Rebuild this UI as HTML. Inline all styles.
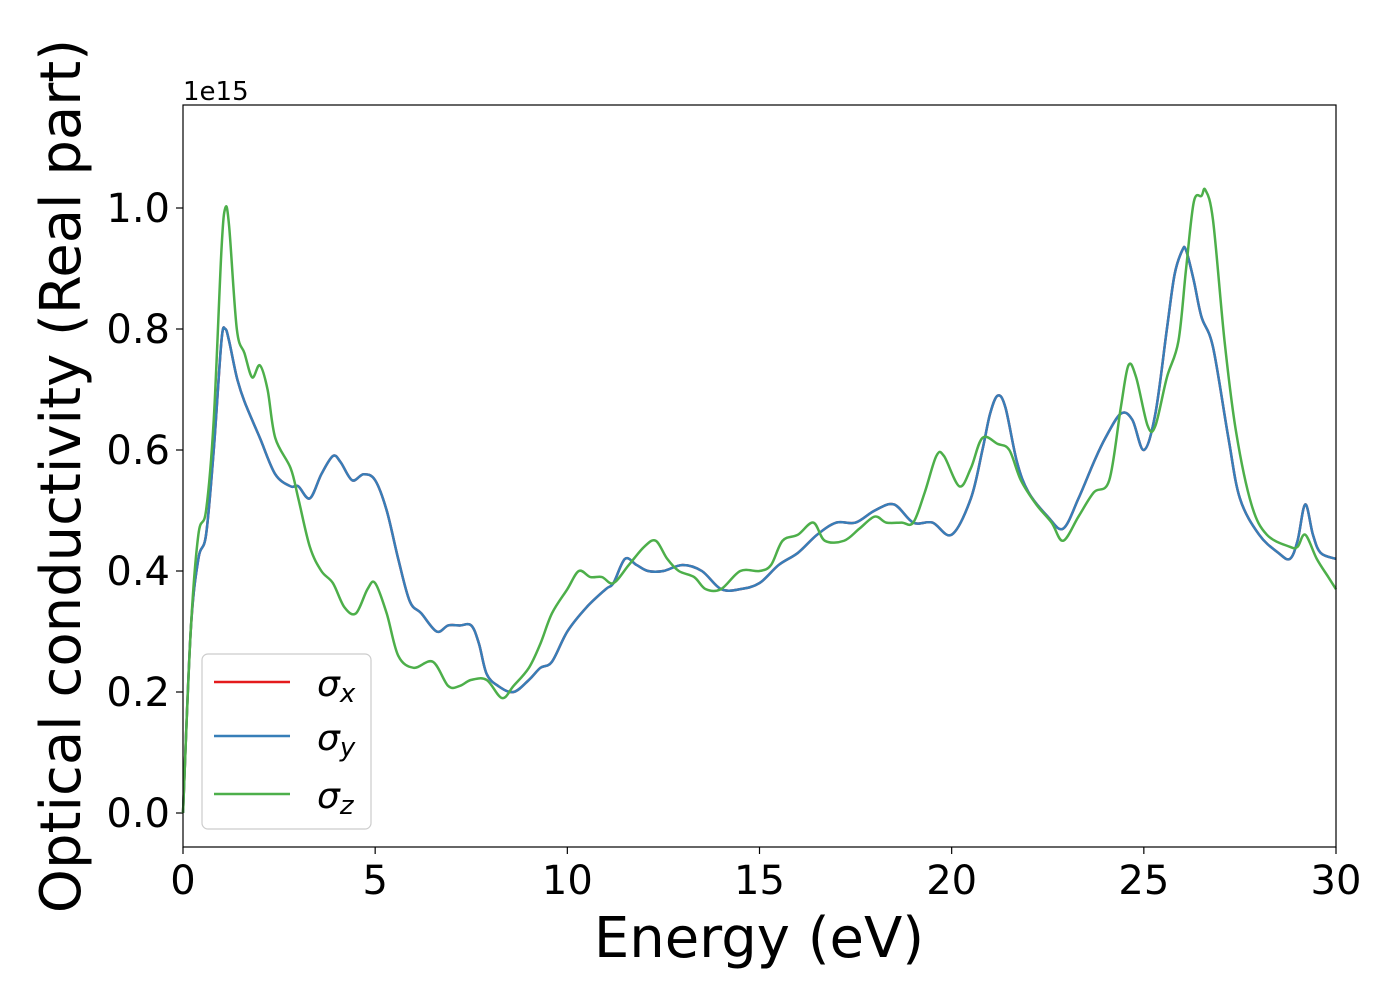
<!DOCTYPE html>
<html><head><meta charset="utf-8"><style>
body{margin:0;background:#fff}
text{font-family:"DejaVu Sans","Liberation Sans",sans-serif}
</style></head><body>
<svg id="chart" width="1400" height="1000" viewBox="0 0 1400 1000" xmlns="http://www.w3.org/2000/svg">
<rect width="1400" height="1000" fill="#fff"/>
<g id="ticks"></g>
<g id="series"></g>
<rect x="183" y="105" width="1153" height="742" fill="none" stroke="#000" stroke-width="1.2"/>
<text x="183" y="100" font-size="26">1e15</text>
<text x="759" y="957" font-size="56" text-anchor="middle">Energy (eV)</text>
<text transform="translate(80,476) rotate(-90)" font-size="56" text-anchor="middle">Optical conductivity (Real part)</text>
<g>
<rect x="202" y="654" width="169" height="175" rx="6" fill="#fff" fill-opacity="0.8" stroke="#ccc" stroke-width="1.2"/>
<line x1="214" y1="682" x2="290" y2="682" stroke="#e41a1c" stroke-width="2.5"/>
<line x1="214" y1="736" x2="290" y2="736" stroke="#377eb8" stroke-width="2.5"/>
<line x1="214" y1="794" x2="290" y2="794" stroke="#4daf4a" stroke-width="2.5"/>
<text x="317" y="696" font-size="36" font-style="italic">σ<tspan font-size="26" dy="6">x</tspan></text>
<text x="317" y="750" font-size="36" font-style="italic">σ<tspan font-size="26" dy="6">y</tspan></text>
<text x="317" y="808" font-size="36" font-style="italic">σ<tspan font-size="26" dy="6">z</tspan></text>
</g>
</svg>
<script>
const xTicks=[0,5,10,15,20,25,30];
const yTicks=[0.0,0.2,0.4,0.6,0.8,1.0];
const energyXY=[0,0.2,0.4,0.6,0.8,1.0,1.1,1.2,1.4,1.6,2.0,2.4,2.8,3.0,3.3,3.6,3.9,4.1,4.4,4.7,5.0,5.3,5.6,5.9,6.2,6.6,6.9,7.2,7.5,7.7,7.9,8.2,8.6,9.0,9.3,9.6,10.0,10.5,11.0,11.2,11.5,11.8,12.1,12.5,13.0,13.5,14.0,14.5,15.0,15.5,16.0,16.5,17.0,17.5,18.0,18.5,19.0,19.5,20.0,20.5,20.8,21.0,21.2,21.4,21.7,22.0,22.5,22.9,23.3,23.7,24.0,24.4,24.7,25.0,25.3,25.6,25.8,26.0,26.1,26.3,26.5,26.8,27.2,27.5,28.0,28.5,28.8,29.0,29.2,29.4,29.6,30.0];
const sigmaY=[0,0.3,0.42,0.46,0.6,0.78,0.80,0.78,0.72,0.68,0.62,0.56,0.54,0.54,0.52,0.56,0.59,0.58,0.55,0.56,0.55,0.50,0.42,0.35,0.33,0.30,0.31,0.31,0.31,0.28,0.23,0.21,0.20,0.22,0.24,0.25,0.30,0.34,0.37,0.38,0.42,0.41,0.40,0.40,0.41,0.40,0.37,0.37,0.38,0.41,0.43,0.46,0.48,0.48,0.50,0.51,0.48,0.48,0.46,0.52,0.60,0.66,0.69,0.67,0.58,0.53,0.49,0.47,0.52,0.58,0.62,0.66,0.65,0.60,0.66,0.80,0.89,0.93,0.93,0.88,0.82,0.77,0.62,0.52,0.46,0.43,0.42,0.45,0.51,0.46,0.43,0.42];
const sigmaX=sigmaY.slice();
const energyZ=[0,0.2,0.4,0.6,0.8,1.0,1.1,1.2,1.4,1.6,1.8,2.0,2.2,2.4,2.8,3.0,3.3,3.6,3.9,4.2,4.5,4.8,5.0,5.3,5.6,6.0,6.5,6.9,7.2,7.5,7.9,8.3,8.6,9.0,9.3,9.6,10.0,10.3,10.6,10.9,11.2,11.6,12.0,12.3,12.6,12.9,13.3,13.6,14.0,14.5,15.0,15.3,15.6,16.0,16.4,16.7,17.2,17.6,18.0,18.3,18.7,19.0,19.3,19.6,19.8,20.2,20.5,20.8,21.2,21.5,21.8,22.2,22.6,22.9,23.3,23.7,24.1,24.4,24.6,24.8,25.1,25.3,25.6,25.9,26.1,26.3,26.5,26.6,26.8,27.1,27.4,27.8,28.2,28.8,29.0,29.2,29.5,29.8,30.0];
const sigmaZ=[0,0.3,0.46,0.50,0.65,0.93,1.00,0.97,0.80,0.76,0.72,0.74,0.70,0.62,0.57,0.52,0.44,0.40,0.38,0.34,0.33,0.37,0.38,0.33,0.26,0.24,0.25,0.21,0.21,0.22,0.22,0.19,0.21,0.24,0.28,0.33,0.37,0.40,0.39,0.39,0.38,0.41,0.44,0.45,0.42,0.40,0.39,0.37,0.37,0.40,0.40,0.41,0.45,0.46,0.48,0.45,0.45,0.47,0.49,0.48,0.48,0.48,0.53,0.59,0.59,0.54,0.57,0.62,0.61,0.60,0.55,0.51,0.48,0.45,0.49,0.53,0.55,0.67,0.74,0.72,0.64,0.64,0.72,0.78,0.90,1.01,1.02,1.03,0.98,0.78,0.63,0.51,0.46,0.44,0.44,0.46,0.42,0.39,0.37];

const X0=183,X1=1336,Y0val=813,Y1val=208;
const xs=v=>X0+(v/30)*(X1-X0);
const ys=v=>Y0val-v*(Y0val-Y1val);
const NS="http://www.w3.org/2000/svg";
const tg=document.getElementById('ticks');
xTicks.forEach(t=>{
  const l=document.createElementNS(NS,'line');
  
  
  l.setAttribute('x1',xs(t));l.setAttribute('x2',xs(t));l.setAttribute('y1',847);l.setAttribute('y2',854);
  l.setAttribute('stroke','#000');l.setAttribute('stroke-width','1.2');tg.appendChild(l);
  const tx=document.createElementNS(NS,'text');
  
  
  tx.setAttribute('x',xs(t));tx.setAttribute('y',894);tx.setAttribute('font-size','40');tx.setAttribute('text-anchor','middle');
  tx.textContent=t;tg.appendChild(tx);
});
yTicks.forEach(t=>{
  const l=document.createElementNS(NS,'line');
  
  
  l.setAttribute('x1',176);l.setAttribute('x2',183);l.setAttribute('y1',ys(t));l.setAttribute('y2',ys(t));
  l.setAttribute('stroke','#000');l.setAttribute('stroke-width','1.2');tg.appendChild(l);
  const tx=document.createElementNS(NS,'text');
  
  
  tx.setAttribute('x',170);tx.setAttribute('y',ys(t)+14);tx.setAttribute('font-size','40');tx.setAttribute('text-anchor','end');
  tx.textContent=t.toFixed(1);tg.appendChild(tx);
});
function pathD(xa,ya){
  const p=xa.map((x,i)=>[xs(x),ys(ya[i])]);
  let d='M'+p[0][0]+','+p[0][1];
  for(let i=0;i<p.length-1;i++){
    const a=p[Math.max(0,i-1)],b=p[i],c=p[i+1],e=p[Math.min(p.length-1,i+2)];
    const c1x=b[0]+(c[0]-a[0])/6,c1y=b[1]+(c[1]-a[1])/6,c2x=c[0]-(e[0]-b[0])/6,c2y=c[1]-(e[1]-b[1])/6;
    d+=` C${c1x},${c1y} ${c2x},${c2y} ${c[0]},${c[1]}`;
  }
  return d;
}
const sg=document.getElementById('series');
[[energyXY,sigmaX,'#e41a1c','series-sigma-x'],[energyXY,sigmaY,'#377eb8','series-sigma-y'],[energyZ,sigmaZ,'#4daf4a','series-sigma-z']].forEach(s=>{
  const p=document.createElementNS(NS,'path');
  
  
  p.setAttribute('d',pathD(s[0],s[1]));p.setAttribute('fill','none');p.setAttribute('stroke',s[2]);p.setAttribute('stroke-width','2.5');
  sg.appendChild(p);
});
</script>
</body></html>
